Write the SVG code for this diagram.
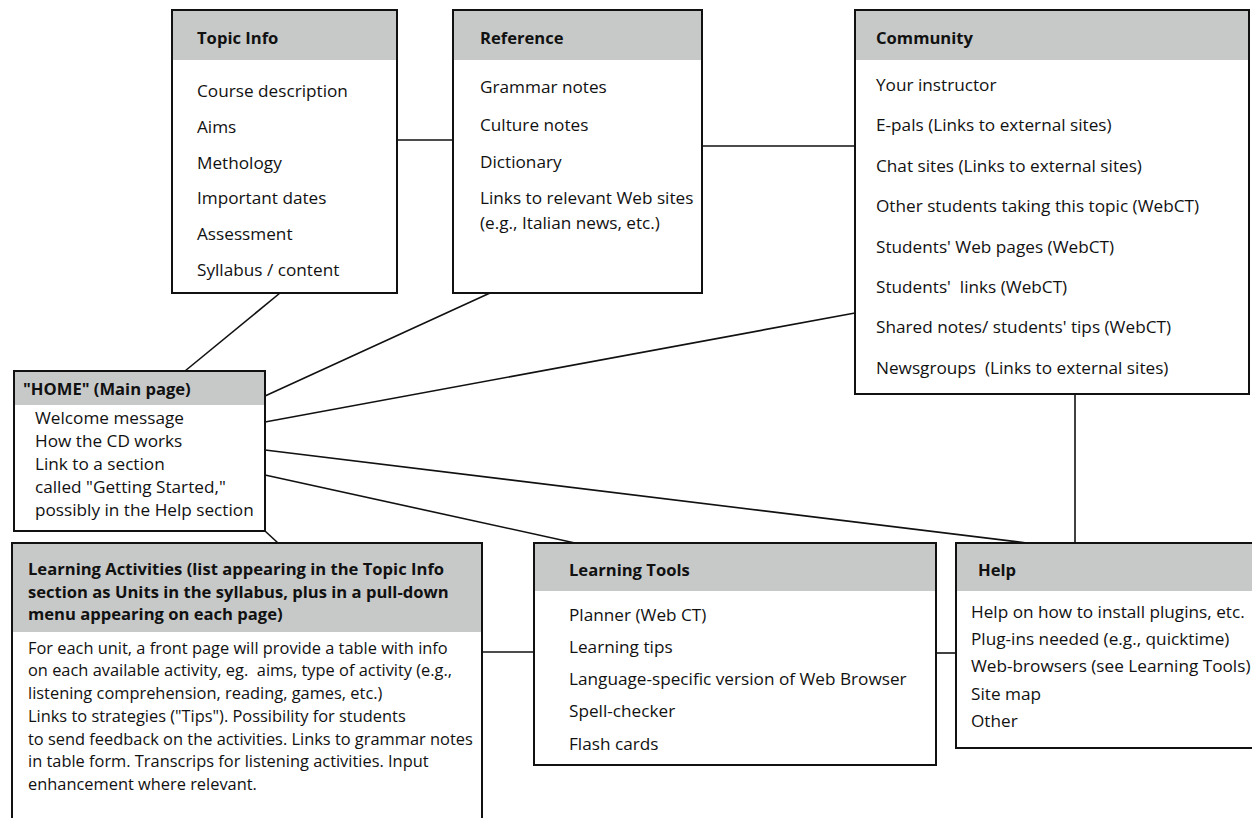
<svg xmlns="http://www.w3.org/2000/svg" width="1252" height="818" viewBox="0 0 1252 818">
<style>
.box{fill:#fff;stroke:none}
.hd{fill:#c7c9c9;stroke:none}
.bd{fill:none;stroke:#111;stroke-width:2}
.ln{stroke:#111;stroke-width:1.6;fill:none}
text{font-family:"Open Sans","Liberation Sans",sans-serif;fill:#111}
.t{font-weight:bold;font-size:16.6px}
.i{font-size:17.2px}
.s{font-size:16.4px}
</style>
<rect width="1252" height="818" fill="#fff"/>
<g id="connectors">
<line class="ln" x1="397" y1="140" x2="453" y2="140"/>
<line class="ln" x1="702" y1="146" x2="855" y2="146"/>
<line class="ln" x1="280" y1="293" x2="185" y2="371"/>
<line class="ln" x1="490" y1="293" x2="265" y2="396"/>
<line class="ln" x1="855" y1="313" x2="265" y2="422"/>
<line class="ln" x1="265" y1="450" x2="1027" y2="543"/>
<line class="ln" x1="265" y1="475" x2="575" y2="543"/>
<line class="ln" x1="265" y1="531" x2="278" y2="543"/>
<line class="ln" x1="482" y1="652" x2="534" y2="652"/>
<line class="ln" x1="936" y1="653" x2="956" y2="653"/>
<line class="ln" x1="1075" y1="394" x2="1075" y2="543"/>
</g>
<g id="topic-info">
<rect class="box" x="172" y="10" width="225" height="283"/>
<rect class="hd" x="172" y="10" width="225" height="50"/>
<rect class="bd" x="172" y="10" width="225" height="283"/>
<text class="t" x="197" y="44">Topic Info</text>
<text class="i" x="197" y="97">Course description</text>
<text class="i" x="197" y="133">Aims</text>
<text class="i" x="197" y="169">Methology</text>
<text class="i" x="197" y="204">Important dates</text>
<text class="i" x="197" y="240">Assessment</text>
<text class="i" x="197" y="276">Syllabus / content</text>
</g>
<g id="reference">
<rect class="box" x="453" y="10" width="249" height="283"/>
<rect class="hd" x="453" y="10" width="249" height="50"/>
<rect class="bd" x="453" y="10" width="249" height="283"/>
<text class="t" x="480" y="44">Reference</text>
<text class="i" x="480" y="93">Grammar notes</text>
<text class="i" x="480" y="131">Culture notes</text>
<text class="i" x="480" y="168">Dictionary</text>
<text class="i" x="480" y="204">Links to relevant Web sites</text>
<text class="i" x="480" y="229">(e.g., Italian news, etc.)</text>
</g>
<g id="community">
<rect class="box" x="855" y="10" width="394" height="384"/>
<rect class="hd" x="855" y="10" width="394" height="50"/>
<rect class="bd" x="855" y="10" width="394" height="384"/>
<text class="t" x="876" y="44">Community</text>
<text class="i" x="876" y="91">Your instructor</text>
<text class="i" x="876" y="131">E-pals (Links to external sites)</text>
<text class="i" x="876" y="172">Chat sites (Links to external sites)</text>
<text class="i" x="876" y="212">Other students taking this topic (WebCT)</text>
<text class="i" x="876" y="253">Students' Web pages (WebCT)</text>
<text class="i" x="876" y="293">Students'&#160; links (WebCT)</text>
<text class="i" x="876" y="333">Shared notes/ students' tips (WebCT)</text>
<text class="i" x="876" y="374">Newsgroups&#160; (Links to external sites)</text>
</g>
<g id="home">
<rect class="box" x="14" y="371" width="251" height="160"/>
<rect class="hd" x="14" y="371" width="251" height="34"/>
<rect class="bd" x="14" y="371" width="251" height="160"/>
<text class="t" x="23" y="395">"HOME" (Main page)</text>
<text class="i" x="35" y="424">Welcome message</text>
<text class="i" x="35" y="447">How the CD works</text>
<text class="i" x="35" y="470">Link to a section</text>
<text class="i" x="35" y="493">called "Getting Started,"</text>
<text class="i" x="35" y="516">possibly in the Help section</text>
</g>
<g id="learning-activities">
<rect class="box" x="12" y="543" width="470" height="300"/>
<rect class="hd" x="12" y="543" width="470" height="89"/>
<rect class="bd" x="12" y="543" width="470" height="300"/>
<text class="t" x="28" y="575">Learning Activities (list appearing in the Topic Info</text>
<text class="t" x="28" y="598">section as Units in the syllabus, plus in a pull-down</text>
<text class="t" x="28" y="620">menu appearing on each page)</text>
<text class="s" x="28" y="654">For each unit, a front page will provide a table with info</text>
<text class="s" x="28" y="676">on each available activity, eg.&#160; aims, type of activity (e.g.,</text>
<text class="s" x="28" y="699">listening comprehension, reading, games, etc.)</text>
<text class="s" x="28" y="722">Links to strategies ("Tips"). Possibility for students</text>
<text class="s" x="28" y="745">to send feedback on the activities. Links to grammar notes</text>
<text class="s" x="28" y="767">in table form. Transcrips for listening activities. Input</text>
<text class="s" x="28" y="790">enhancement where relevant.</text>
</g>
<g id="learning-tools">
<rect class="box" x="534" y="543" width="402" height="222"/>
<rect class="hd" x="534" y="543" width="402" height="48"/>
<rect class="bd" x="534" y="543" width="402" height="222"/>
<text class="t" x="569" y="576">Learning Tools</text>
<text class="i" x="569" y="621">Planner (Web CT)</text>
<text class="i" x="569" y="653">Learning tips</text>
<text class="i" x="569" y="685">Language-specific version of Web Browser</text>
<text class="i" x="569" y="717">Spell-checker</text>
<text class="i" x="569" y="750">Flash cards</text>
</g>
<g id="help">
<rect class="box" x="956" y="543" width="310" height="205"/>
<rect class="hd" x="956" y="543" width="310" height="48"/>
<rect class="bd" x="956" y="543" width="310" height="205"/>
<text class="t" x="978" y="576">Help</text>
<text class="i" x="971" y="618">Help on how to install plugins, etc.</text>
<text class="i" x="971" y="645">Plug-ins needed (e.g., quicktime)</text>
<text class="i" x="971" y="672">Web-browsers (see Learning Tools)</text>
<text class="i" x="971" y="700">Site map</text>
<text class="i" x="971" y="727">Other</text>
</g>
</svg>
